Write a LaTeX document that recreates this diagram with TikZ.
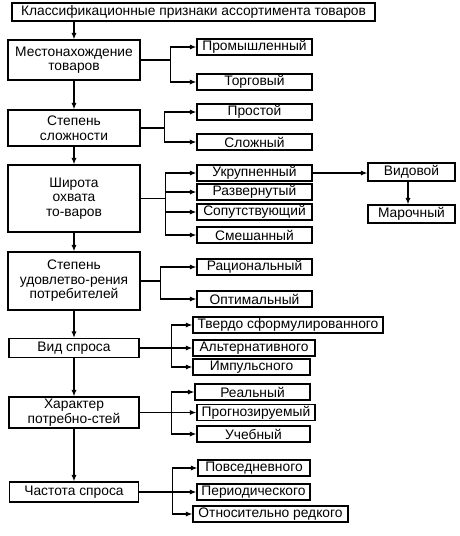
\documentclass[tikz,border=0pt]{standalone}
\usepackage{fontspec}
\setmainfont{Liberation Sans}
\usetikzlibrary{arrows.meta}

\begin{document}
\begin{tikzpicture}[x=1pt,y=-1pt,
  box/.style={draw, line width=1.1pt, inner sep=0.5pt, align=center,
    font=\fontsize{13.8}{14.5}\selectfont},
  sidebox/.style={box, minimum height=16pt},
  arr/.style={-{Latex[length=6.5pt,width=5pt]}, line width=1.1pt}]
\useasboundingbox (0,0) rectangle (459,536);

% header and left column
\node[box, minimum width=363pt, minimum height=18pt] (top) at (193.5,12) {Классификационные признаки ассортимента товаров};
\node[box, minimum width=132pt, minimum height=40pt] (mest) at (74,60) {Местонахождение\\товаров};
\node[box, minimum width=132pt, minimum height=36pt] (slozh) at (74,128) {Степень\\сложности};
\node[box, minimum width=132pt, minimum height=67pt] (shir) at (74,198.5) {Широта\\охвата\\то-варов};
\node[box, minimum width=132pt, minimum height=58pt] (udov) at (74,281) {Степень\\удовлетво-рения\\потребителей};
\node[box, minimum width=130pt, minimum height=19pt] (vid) at (74,348) {Вид спроса};
\node[box, minimum width=130pt, minimum height=31pt] (har) at (74,412.5) {Характер\\потребно-стей};
\node[box, minimum width=129pt, minimum height=20pt] (chast) at (74,492) {Частота спроса};

% right column
\node[sidebox, minimum width=115pt] (prom) at (254.5,47) {Промышленный};
\node[sidebox, minimum width=115pt] (torg) at (254.5,82) {Торговый};
\node[sidebox, minimum width=115pt] (prost) at (254.5,112) {Простой};
\node[sidebox, minimum width=115pt] (slozhn) at (254.5,142) {Сложный};
\node[sidebox, minimum width=115pt] (ukr) at (254.5,173) {Укрупненный};
\node[sidebox, minimum width=115pt] (razv) at (254.5,192) {Развернутый};
\node[sidebox, minimum width=115pt] (sop) at (254.5,212) {Сопутствующий};
\node[sidebox, minimum width=115pt] (smesh) at (254.5,235) {Смешанный};
\node[box, minimum width=87pt, minimum height=18pt] (vidov) at (411.5,172) {Видовой};
\node[box, minimum width=87pt, minimum height=18pt] (maroch) at (411.5,214) {Марочный};
\node[sidebox, minimum width=115pt] (rac) at (254.5,267) {Рациональный};
\node[sidebox, minimum width=115pt] (opt) at (254.5,299) {Оптимальный};
\node[sidebox, minimum width=190pt] (tverd) at (288,325) {Твердо сформулированного};
\node[sidebox, minimum width=122pt] (alt) at (254,348) {Альтернативного};
\node[sidebox, minimum width=117pt] (imp) at (251.5,367) {Импульсного};
\node[sidebox, minimum width=115pt] (real) at (252.5,392) {Реальный};
\node[sidebox, minimum width=118pt] (prog) at (256,412.5) {Прогнозируемый};
\node[sidebox, minimum width=113pt] (ucheb) at (253.5,434) {Учебный};
\node[sidebox, minimum width=112pt] (povs) at (254,468) {Повседневного};
\node[sidebox, minimum width=113pt] (period) at (253.5,492) {Периодического};
\node[sidebox, minimum width=155pt] (otn) at (270.5,514) {Относительно редкого};

% trunk
\foreach \a/\b in {top/mest, mest/slozh, slozh/shir, shir/udov, udov/vid, vid/har, har/chast}
  \draw[arr] (\b.north |- \a.south) -- (\b.north);

% branches
\foreach \p/\c/\d in {mest/prom/30, mest/torg/30, slozh/prost/24, slozh/slozhn/24,
    shir/ukr/25, shir/razv/25, shir/sop/25, shir/smesh/25, udov/rac/20, udov/opt/20,
    vid/tverd/32, vid/alt/32, vid/imp/32, har/real/32, har/prog/32, har/ucheb/32,
    chast/povs/33, chast/period/33, chast/otn/33}
  \draw[arr] (\p.east) -- ++(\d,0) |- (\c.west);

\draw[arr] (ukr.east) -- (ukr.east -| vidov.west);
\draw[arr] (vidov.south -| 408,0) -- (maroch.north -| 408,0);
\end{tikzpicture}
\end{document}
